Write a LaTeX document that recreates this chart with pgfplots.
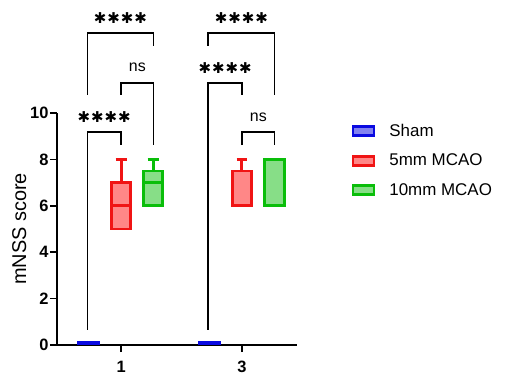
\documentclass[border=0pt]{standalone}
\usepackage{pgfplots}
\pgfplotsset{compat=1.18}
\usepackage{fontspec}
\setmainfont{Liberation Sans}
\newfontfamily\dejavu{DejaVu Sans}
\definecolor{rb}{RGB}{240,20,20}
\definecolor{rf}{RGB}{255,135,135}
\definecolor{gb}{RGB}{10,190,10}
\definecolor{gf}{RGB}{135,222,135}
\definecolor{bb}{RGB}{10,10,225}
\definecolor{bf}{RGB}{130,130,240}
\newcommand{\st}{\makebox[13.5bp]{\dejavu\fontsize{15}{15}\selectfont ✱}}
\newcommand{\stars}{\st\st\st\st}
\pgfplotsset{
  bx/.style={line width=3pt, forget plot},
  br/.style={black, line width=1.4pt, forget plot},
}
\begin{document}
\begin{tikzpicture}
\path[use as bounding box] (-57bp,-43bp) rectangle (451bp,345bp);
\begin{axis}[
  at={(0,0)}, anchor=south west,
  scale only axis, width=240bp, height=232bp,
  xmin=0.47, xmax=2.455, ymin=0, ymax=10,
  axis lines=left, axis line style={line width=1.7pt, -},
  clip=false,
  xtick={1,2}, xticklabels={1,3},
  ytick={0,2,4,6,8,10},
  tick style={line width=1.5pt, black},
  tick align=outside, major tick length=7bp,
  ticklabel style={font=\fontsize{16.5}{16.5}\selectfont\bfseries},
  /pgf/number format/assume math mode=true,
  xticklabel style={yshift=-6bp},
  yticklabel style={xshift=2bp},
  ylabel={mNSS score},
  ylabel style={font=\fontsize{20}{20}\selectfont, yshift=-3bp},
  legend style={at={(1.215,0.965)}, anchor=north west, draw=none, fill=none,
    font=\fontsize{17}{17}\selectfont, row sep=14bp,
    nodes={inner sep=1bp},
    /tikz/every odd column/.append style={column sep=13bp}},
  legend cell align=left,
]
% ---- Day 1 ----
% Sham (all zero)
\addplot[bx, draw=bb, fill=bf] coordinates {(0.65,0.06) (0.81,0.06) (0.81,0.1) (0.65,0.1)} -- cycle;
% 5mm MCAO: min 5, Q1 5, median 6, Q3 7, max 8
\addplot[bx, draw=rb, fill=rf] coordinates {(0.92,5) (1.08,5) (1.08,7) (0.92,7)} -- cycle;
\addplot[bx, draw=rb] coordinates {(0.92,6) (1.08,6)};
\addplot[bx, draw=rb] coordinates {(1.0,7) (1.0,8)};
\addplot[bx, draw=rb] coordinates {(0.955,8) (1.045,8)};
% 10mm MCAO: min 6, Q1 6, median 7, Q3 7.5, max 8
\addplot[bx, draw=gb, fill=gf] coordinates {(1.185,6) (1.345,6) (1.345,7.5) (1.185,7.5)} -- cycle;
\addplot[bx, draw=gb] coordinates {(1.185,7) (1.345,7)};
\addplot[bx, draw=gb] coordinates {(1.265,7.5) (1.265,8)};
\addplot[bx, draw=gb] coordinates {(1.22,8) (1.31,8)};
% ---- Day 3 ----
\addplot[bx, draw=bb, fill=bf] coordinates {(1.65,0.06) (1.81,0.06) (1.81,0.1) (1.65,0.1)} -- cycle;
% 5mm MCAO: min 6, Q1 6, median 6, Q3 7.5, max 8
\addplot[bx, draw=rb, fill=rf] coordinates {(1.92,6) (2.08,6) (2.08,7.5) (1.92,7.5)} -- cycle;
\addplot[bx, draw=rb] coordinates {(1.92,6) (2.08,6)};
\addplot[bx, draw=rb] coordinates {(2.0,7.5) (2.0,8)};
\addplot[bx, draw=rb] coordinates {(1.955,8) (2.045,8)};
% 10mm MCAO: min 6, Q1 6, median 6, Q3 8, max 8
\addplot[bx, draw=gb, fill=gf] coordinates {(2.19,6) (2.35,6) (2.35,8) (2.19,8)} -- cycle;
\addplot[bx, draw=gb] coordinates {(2.19,6) (2.35,6)};
% brackets
\addplot[br] coordinates {(0.72,0.65) (0.72,9.18) (1.0,9.18) (1.0,8.62)};
\addplot[br] coordinates {(1.0,10.78) (1.0,11.3) (1.27,11.3) (1.27,8.62)};
\addplot[br] coordinates {(0.72,10.78) (0.72,13.45) (1.27,13.45) (1.27,12.9)};
\addplot[br] coordinates {(2.0,8.62) (2.0,9.18) (2.27,9.18) (2.27,8.62)};
\addplot[br] coordinates {(1.72,0.65) (1.72,11.3) (2.0,11.3) (2.0,10.78)};
\addplot[br] coordinates {(1.72,12.9) (1.72,13.45) (2.27,13.45) (2.27,10.78)};
\node at (axis cs:0.86,9.83) {\stars};
\node at (axis cs:1.135,11.96) {\fontsize{16}{16}\selectfont ns};
\node at (axis cs:0.995,14.1) {\stars};
\node at (axis cs:2.135,9.83) {\fontsize{16}{16}\selectfont ns};
\node at (axis cs:1.86,11.95) {\stars};
\node at (axis cs:1.995,14.1) {\stars};
% legend
\addlegendimage{legend image code/.code={\draw[draw=bb, fill=bf, line width=2.6pt] (0bp,-4.5bp) rectangle (21bp,4.5bp);}}
\addlegendentry{Sham}
\addlegendimage{legend image code/.code={\draw[draw=rb, fill=rf, line width=2.6pt] (0bp,-4.5bp) rectangle (21bp,4.5bp);}}
\addlegendentry{5mm MCAO}
\addlegendimage{legend image code/.code={\draw[draw=gb, fill=gf, line width=2.6pt] (0bp,-4.5bp) rectangle (21bp,4.5bp);}}
\addlegendentry{10mm MCAO}
\end{axis}
\end{tikzpicture}
\end{document}
